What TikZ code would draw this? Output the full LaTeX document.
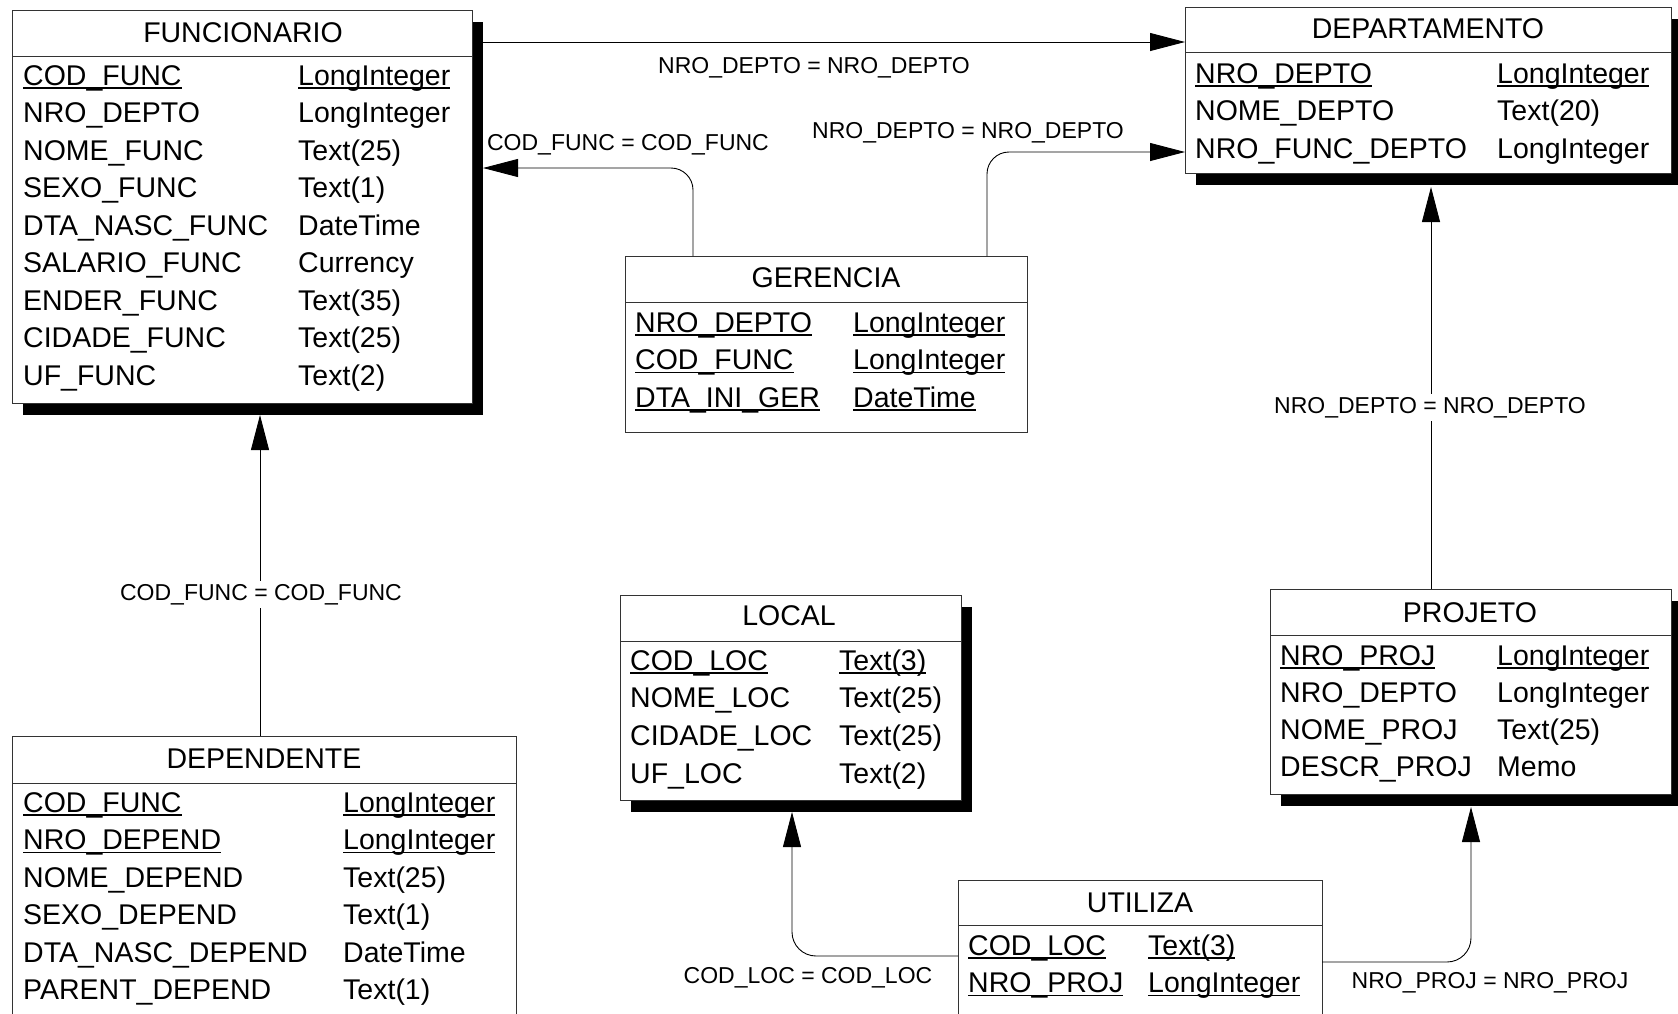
\documentclass[tikz,border=0pt]{standalone}
\usepackage{fontspec}
\setmainfont{Liberation Sans}
\usetikzlibrary{arrows.meta,shadows}
\def\ul#1{\setbox0\hbox{#1}\rlap{\rule[-3.5pt]{\wd0}{1.1pt}}\box0}
\begin{document}
\begin{tikzpicture}[x=1pt,y=-1pt,
  tbox/.style={draw=black!80, line width=0.9pt, fill=white, inner sep=0pt, anchor=north west},
  shad/.style={drop shadow={shadow xshift=11pt, shadow yshift=-12pt, fill=black, opacity=1}},
  divline/.style={draw=black!80, line width=0.9pt},
  ftxt/.style={inner sep=0pt, anchor=base west, font=\fontsize{28.5}{34}\selectfont},
  ttl/.style={inner sep=0pt, anchor=base, font=\fontsize{28.5}{34}\selectfont},
  rel/.style={line width=0.9pt, -{Triangle[length=35pt,width=18pt]}},
  lbl/.style={inner sep=0pt, anchor=base, font=\fontsize{23}{27}\selectfont},
  lblw/.style={lbl, fill=white, inner ysep=3pt, inner xsep=1pt}]
\fill[white] (0,0) rectangle (1678,1013);
\useasboundingbox (0,0) rectangle (1678,1013);
\clip (0,0) rectangle (1678,1013);

% ---------- FUNCIONARIO
\node[tbox, shad, minimum width=460pt, minimum height=393pt] (func) at (12,10) {};
\draw[divline] (func.west |- 0,56) -- (func.east |- 0,56);
\node[ttl] (func-title) at (243,42) {FUNCIONARIO};
\foreach \a/\b [count=\i] in {\ul{COD\_FUNC}/\ul{LongInteger}, NRO\_DEPTO/LongInteger, NOME\_FUNC/Text(25), SEXO\_FUNC/Text(1), DTA\_NASC\_FUNC/DateTime, SALARIO\_FUNC/Currency, ENDER\_FUNC/Text(35), CIDADE\_FUNC/Text(25), UF\_FUNC/Text(2)}
 {\node[ftxt] (func-n\i) at (23,{85+37.5*(\i-1)}) {\a};
  \node[ftxt] (func-t\i) at (298,{85+37.5*(\i-1)}) {\b};}

% ---------- DEPARTAMENTO
\node[tbox, shad, minimum width=486pt, minimum height=166pt] (dep) at (1185,7) {};
\draw[divline] (dep.west |- 0,52) -- (dep.east |- 0,52);
\node[ttl] (dep-title) at (1428,38) {DEPARTAMENTO};
\foreach \a/\b [count=\i] in {\ul{NRO\_DEPTO}/\ul{LongInteger}, NOME\_DEPTO/Text(20), NRO\_FUNC\_DEPTO/LongInteger}
 {\node[ftxt] (dep-n\i) at (1195,{83+37.5*(\i-1)}) {\a};
  \node[ftxt] (dep-t\i) at (1497,{83+37.5*(\i-1)}) {\b};}

% ---------- GERENCIA
\node[tbox, minimum width=402pt, minimum height=176pt] (ger) at (625,256) {};
\draw[divline] (ger.west |- 0,302) -- (ger.east |- 0,302);
\node[ttl] (ger-title) at (826,287) {GERENCIA};
\foreach \a/\b [count=\i] in {\ul{NRO\_DEPTO}/\ul{LongInteger}, \ul{COD\_FUNC}/\ul{LongInteger}, \ul{DTA\_INI\_GER}/\ul{DateTime}}
 {\node[ftxt] (ger-n\i) at (635,{332+37.5*(\i-1)}) {\a};
  \node[ftxt] (ger-t\i) at (853,{332+37.5*(\i-1)}) {\b};}

% ---------- DEPENDENTE
\node[tbox, minimum width=504pt, minimum height=300pt] (dpd) at (12,736) {};
\draw[divline] (dpd.west |- 0,783) -- (dpd.east |- 0,783);
\node[ttl] (dpd-title) at (264,768) {DEPENDENTE};
\foreach \a/\b [count=\i] in {\ul{COD\_FUNC}/\ul{LongInteger}, \ul{NRO\_DEPEND}/\ul{LongInteger}, NOME\_DEPEND/Text(25), SEXO\_DEPEND/Text(1), DTA\_NASC\_DEPEND/DateTime, PARENT\_DEPEND/Text(1)}
 {\node[ftxt] (dpd-n\i) at (23,{812+37.5*(\i-1)}) {\a};
  \node[ftxt] (dpd-t\i) at (343,{812+37.5*(\i-1)}) {\b};}

% ---------- LOCAL
\node[tbox, shad, minimum width=341pt, minimum height=205pt] (loc) at (620,595) {};
\draw[divline] (loc.west |- 0,641) -- (loc.east |- 0,641);
\node[ttl] (loc-title) at (789,625) {LOCAL};
\foreach \a/\b [count=\i] in {\ul{COD\_LOC}/\ul{Text(3)}, NOME\_LOC/Text(25), CIDADE\_LOC/Text(25), UF\_LOC/Text(2)}
 {\node[ftxt] (loc-n\i) at (630,{670+37.7*(\i-1)}) {\a};
  \node[ftxt] (loc-t\i) at (839,{670+37.7*(\i-1)}) {\b};}

% ---------- PROJETO
\node[tbox, shad, minimum width=401pt, minimum height=205pt] (proj) at (1270,589) {};
\draw[divline] (proj.west |- 0,635) -- (proj.east |- 0,635);
\node[ttl] (proj-title) at (1470,622) {PROJETO};
\foreach \a/\b [count=\i] in {\ul{NRO\_PROJ}/\ul{LongInteger}, NRO\_DEPTO/LongInteger, NOME\_PROJ/Text(25), DESCR\_PROJ/Memo}
 {\node[ftxt] (proj-n\i) at (1280,{665+37*(\i-1)}) {\a};
  \node[ftxt] (proj-t\i) at (1497,{665+37*(\i-1)}) {\b};}

% ---------- UTILIZA
\node[tbox, minimum width=364pt, minimum height=200pt] (uti) at (958,880) {};
\draw[divline] (uti.west |- 0,925) -- (uti.east |- 0,925);
\node[ttl] (uti-title) at (1140,912) {UTILIZA};
\foreach \a/\b [count=\i] in {\ul{COD\_LOC}/\ul{Text(3)}, \ul{NRO\_PROJ}/\ul{LongInteger}}
 {\node[ftxt] (uti-n\i) at (968,{955+37.5*(\i-1)}) {\a};
  \node[ftxt] (uti-t\i) at (1148,{955+37.5*(\i-1)}) {\b};}

% ---------- connectors
\coordinate (fshR) at (483,42);
\draw[rel] (fshR) -- (fshR -| dep.west);

\coordinate (g1) at (693,256);
\coordinate (fshR2) at (483,168);
\draw[rel, rounded corners=22pt] (g1) |- (fshR2);

\coordinate (g2) at (987,256);
\draw[rel, rounded corners=22pt] (g2) |- (dep.west |- 0,152);

\coordinate (dp1) at (260,736);
\coordinate (fshB) at (260,415);
\draw[rel] (dp1) -- (fshB);

\coordinate (pj1) at (1431,589);
\coordinate (dshB) at (1431,187);
\draw[rel] (pj1) -- (dshB);

\coordinate (u1) at (958,956);
\coordinate (lshB) at (792,812);
\draw[rel, rounded corners=24pt] (u1) -| (lshB);

\coordinate (u2) at (1322,962);
\coordinate (pshB) at (1471,807);
\draw[rel, rounded corners=24pt] (u2) -| (pshB);

% ---------- labels
\node[lbl] (l1) at (814,73) {NRO\_DEPTO = NRO\_DEPTO};
\node[lbl] (l2) at (628,150) {COD\_FUNC = COD\_FUNC};
\node[lbl] (l3) at (968,138) {NRO\_DEPTO = NRO\_DEPTO};
\node[lblw] (l4) at (261,600) {COD\_FUNC = COD\_FUNC};
\node[lblw] (l5) at (1430,413) {NRO\_DEPTO = NRO\_DEPTO};
\node[lbl] (l6) at (808,983) {COD\_LOC = COD\_LOC};
\node[lbl] (l7) at (1490,988) {NRO\_PROJ = NRO\_PROJ};
\end{tikzpicture}
\end{document}
